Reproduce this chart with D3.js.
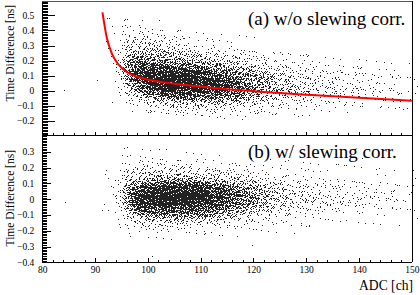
<!DOCTYPE html>
<html>
<head>
<meta charset="utf-8">
<script src="https://cdn.jsdelivr.net/npm/d3@7"></script>
<style>
body { margin: 0; background: #fff; }
svg text { font-family: "Liberation Serif", "Times New Roman", Times, serif !important; fill: #000; }
.axis path, .axis line { stroke: #000; shape-rendering: crispEdges; }
.axis text { font-size: 9.5px; }
</style>
</head>
<body>
<div id="chart"></div>
<script>
// Time difference vs ADC, before / after slewing correction

// ADC bin lower edges (2 ch wide)
var adcBins = [92, 94, 96, 98, 100, 102, 104, 106, 108, 110, 112, 114, 116, 118, 120,
               122, 124, 126, 128, 130, 132, 134, 136, 138, 140, 142, 144, 146, 148];
var adcBinWidth = 2;

// time bin lower edges [ns], 0.05 wide
var topRows = [0.50, 0.45, 0.40, 0.35, 0.30, 0.25, 0.20, 0.15, 0.10, 0.05, 0.00, -0.05, -0.10, -0.15, -0.20, -0.25];
var botRows = [0.35, 0.30, 0.25, 0.20, 0.15, 0.10, 0.05, 0.00, -0.05, -0.10, -0.15, -0.20, -0.25, -0.30, -0.35, -0.40];
var timeBinWidth = 0.05;

// entries per (ADC bin, time bin) - (a) w/o correction
var topCounts = [
  [1,1,1,1,1,1,1,1,1,0,0,0,0,0,0,0],
  [1,1,2,3,4,6,8,10,10,8,5,2,1,0,0,0],
  [0,1,3,6,10,18,32,50,62,50,28,10,3,1,0,0],
  [0,1,2,6,12,22,42,80,118,110,68,26,8,2,0,0],
  [0,0,2,5,10,20,36,78,140,155,110,44,12,3,1,0],
  [0,0,1,3,8,15,30,66,140,175,140,64,15,4,1,0],
  [0,0,1,2,6,12,25,55,128,175,158,76,20,5,1,0],
  [0,0,0,2,4,10,20,48,110,162,158,76,22,5,1,0],
  [0,0,0,1,3,8,16,40,98,145,145,76,22,5,1,0],
  [0,0,0,1,3,6,14,34,82,126,132,70,22,6,1,0],
  [0,0,0,1,2,5,12,29,68,108,114,64,22,6,1,0],
  [0,0,0,0,2,4,10,23,54,88,92,55,20,6,1,0],
  [0,0,0,0,1,3,8,18,42,66,72,44,17,5,1,0],
  [0,0,0,0,1,2,6,13,30,48,54,34,14,4,1,0],
  [0,0,0,0,1,2,5,10,21,34,38,26,11,3,1,0],
  [0,0,0,0,0,1,4,7,15,24,27,19,9,3,1,0],
  [0,0,0,0,0,1,3,6,11,17,20,16,8,2,1,0],
  [0,0,0,0,0,1,2,5,9,13,16,13,6,2,0,0],
  [0,0,0,0,0,1,2,4,7,10,13,11,5,2,1,0],
  [0,0,0,0,0,0,2,3,6,8,10,9,5,2,0,0],
  [0,0,0,0,0,0,1,3,5,7,9,8,4,1,0,0],
  [0,0,0,0,0,0,1,2,4,6,8,7,4,1,0,0],
  [0,0,0,0,0,0,1,2,3,5,7,6,3,1,0,0],
  [0,0,0,0,0,0,1,2,3,4,6,5,3,1,0,0],
  [0,0,0,0,0,0,1,1,3,4,5,5,3,1,0,0],
  [0,0,0,0,0,0,0,1,2,4,4,4,2,1,0,0],
  [0,0,0,0,0,0,0,1,2,3,4,4,2,1,0,0],
  [0,0,0,0,0,0,0,1,2,3,3,3,2,1,0,0],
  [0,0,0,0,0,0,0,1,2,2,3,3,2,1,0,0]
];

// (b) w/ correction
var botCounts = [
  [0,0,0,0,1,1,1,1,1,1,0,0,0,0,0,0],
  [0,1,1,2,4,6,9,12,10,6,3,1,0,0,0,0],
  [0,1,2,4,8,20,45,68,62,34,13,4,1,0,0,0],
  [0,1,2,5,10,27,86,128,115,62,19,5,1,0,0,0],
  [0,1,2,5,12,32,110,165,150,74,21,5,1,0,0,0],
  [0,0,2,5,12,34,122,178,162,80,23,5,1,0,0,0],
  [0,0,1,4,12,34,128,182,162,80,23,5,1,0,0,0],
  [0,0,1,4,11,32,122,175,150,74,21,5,1,0,0,0],
  [0,0,1,3,10,30,110,158,132,66,19,4,1,0,0,0],
  [0,0,1,3,9,27,98,140,115,57,17,4,1,0,0,0],
  [0,0,1,3,8,23,85,116,97,48,15,4,1,0,0,0],
  [0,0,0,2,7,19,66,90,76,38,12,3,1,0,0,0],
  [0,0,0,2,6,15,48,66,57,29,10,3,1,0,0,0],
  [0,0,0,2,5,12,34,47,40,21,8,2,0,0,0,0],
  [0,0,0,1,4,10,24,32,28,15,6,2,0,0,0,0],
  [0,0,0,1,3,8,18,24,20,11,5,1,0,0,0,0],
  [0,0,0,1,3,6,13,18,15,9,4,1,0,0,0,0],
  [0,0,0,1,2,5,10,14,12,7,3,1,0,0,0,0],
  [0,0,0,1,2,4,8,11,10,6,3,1,0,0,0,0],
  [0,0,0,1,2,3,7,9,8,5,2,1,0,0,0,0],
  [0,0,0,1,2,3,6,8,7,4,2,0,0,0,0,0],
  [0,0,0,1,1,3,5,7,6,4,2,0,0,0,0,0],
  [0,0,0,1,1,2,5,6,5,3,2,0,0,0,0,0],
  [0,0,0,1,1,2,4,5,5,3,1,0,0,0,0,0],
  [0,0,0,0,1,2,4,5,4,3,1,0,0,0,0,0],
  [0,0,0,0,1,2,3,4,4,2,1,0,0,0,0,0],
  [0,0,0,0,1,2,3,4,3,2,1,0,0,0,0,0],
  [0,0,0,0,1,1,3,3,3,2,1,0,0,0,0,0],
  [0,0,0,0,1,1,2,3,3,2,1,0,0,0,0,0]
];

// isolated entries [adc, ns]
var topOutliers = [[84.1, 0.005], [90.4, 0.07]];
var botOutliers = [[84.3, -0.02], [91.3, -0.07], [91.9, 0.16], [91.6, -0.03], [100.7, -0.36], [119.7, -0.29]];

// slewing fit curve
var fitAdc  = [91.4, 92.2, 93.2, 94.4, 96.3, 99.5, 102.7, 105.8, 109, 113, 120, 125, 131, 140, 150];
var fitTime = [0.52, 0.355, 0.245, 0.175, 0.118, 0.078, 0.057, 0.043, 0.031, 0.017, -0.003, -0.016, -0.029, -0.047, -0.066];

// ticks
var xTicks = [80, 90, 100, 110, 120, 130, 140, 150];
var topTicks = [-0.2, -0.1, 0, 0.1, 0.2, 0.3, 0.4, 0.5];
var botTicks = [-0.4, -0.3, -0.2, -0.1, 0, 0.1, 0.2, 0.3];

var width = 420, height = 295;
var serif = "'Liberation Serif', 'Times New Roman', Times, serif";

var svg = d3.select("#chart").append("svg")
    .attr("width", width)
    .attr("height", height);

var x = d3.scaleLinear().domain([80, 150]).range([42.3, 411.8]);
var yTop = d3.scaleLinear().domain([-0.291, 0.596]).range([134.5, 1]);
var yBot = d3.scaleLinear().domain([-0.4, 0.409]).range([262.3, 134.5]);

function frac(v) { return v - Math.floor(v); }

// lay the entries of each bin out evenly, with a triangular spread
// over the neighbouring half bins so the bin edges don't show
var a1 = 0.8566748838545, a2 = 0.7338918566271, a3 = 0.6287067210378, a4 = 0.5385972572236;
function binPoints(counts, rows, outliers, y) {
  var pts = [];
  var lo = y.domain()[0], hi = y.domain()[1];
  counts.forEach(function(col, i) {
    col.forEach(function(n, j) {
      for (var k = 0; k < n; k++) {
        var s = (i * 16 + j) * 251 + k + 1;
        var u = frac(0.5 + s * a1) + frac(0.5 + s * a2) - 0.5;
        var v = frac(0.5 + s * a3) + frac(0.5 + s * a4) - 0.5;
        var t = rows[j] + timeBinWidth * v;
        if (t > lo && t < hi) pts.push([adcBins[i] + adcBinWidth * u, t]);
      }
    });
  });
  return pts.concat(outliers);
}

function drawPanel(y, counts, rows, outliers) {
  svg.append("g")
    .attr("shape-rendering", "crispEdges")
    .selectAll("rect")
    .data(binPoints(counts, rows, outliers, y))
  .enter().append("rect")
    .attr("x", function(d) { return Math.round(x(d[0])); })
    .attr("y", function(d) { return Math.round(y(d[1])); })
    .attr("width", 1)
    .attr("height", 1)
    .attr("fill", "#222");
}

drawPanel(yTop, topCounts, topRows, topOutliers);
drawPanel(yBot, botCounts, botRows, botOutliers);

// fit curve
var fit = fitAdc.map(function(a, i) { return [a, fitTime[i]]; });
svg.append("path")
  .datum(fit)
  .attr("fill", "none")
  .attr("stroke", "#ff0000")
  .attr("stroke-width", 2)
  .attr("d", d3.line()
    .x(function(d) { return x(d[0]); })
    .y(function(d) { return yTop(d[1]); })
    .curve(d3.curveMonotoneX));

var fmt = function(d) { return d === 0 ? "0" : d3.format(".1f")(d); };

// y axes, ticks on the inside
function yAxis(y, ticks, lo, hi, major, minor) {
  svg.append("g")
    .attr("class", "axis")
    .attr("transform", "translate(" + x(80) + ",0)")
    .call(d3.axisLeft(y).tickValues(d3.range(lo, hi + 1).map(function(i) { return i / 100; }))
      .tickFormat("").tickSizeInner(-minor).tickSizeOuter(0));
  svg.append("g")
    .attr("class", "axis")
    .attr("transform", "translate(" + x(80) + ",0)")
    .call(d3.axisLeft(y).tickValues(ticks).tickFormat(fmt)
      .tickSizeInner(-major).tickSizeOuter(0).tickPadding(8));
}
yAxis(yTop, topTicks, -29, 59, 12.7, 6);
yAxis(yBot, botTicks, -40, 40, 8.3, 4.3);

// x axes
function xAxis(y0, ticksOn, major, minor) {
  svg.append("g")
    .attr("class", "axis")
    .attr("transform", "translate(0," + y0 + ")")
    .call(d3.axisBottom(x).tickValues(d3.range(80, 151, 2)).tickFormat("")
      .tickSizeInner(-minor).tickSizeOuter(0));
  svg.append("g")
    .attr("class", "axis")
    .attr("transform", "translate(0," + y0 + ")")
    .call(d3.axisBottom(x).tickValues(xTicks).tickFormat(ticksOn ? d3.format("d") : "")
      .tickSizeInner(-major).tickSizeOuter(0).tickPadding(3.5));
}
xAxis(134.5, false, 3, 1.5);
xAxis(262.3, true, 4.3, 2);

// frame
svg.append("line").attr("x1", x(80)).attr("x2", x(150) + 1).attr("y1", 1).attr("y2", 1)
  .attr("stroke", "#555").attr("shape-rendering", "crispEdges");
svg.append("line").attr("x1", x(150) + 1).attr("x2", x(150) + 1).attr("y1", 1).attr("y2", yBot(-0.4))
  .attr("stroke", "#000").attr("shape-rendering", "crispEdges");

// titles
function label(sel, size) {
  return sel.style("font-family", serif).style("font-size", size);
}
label(svg.append("text"), "11.5px")
  .attr("transform", "translate(13.5,5) rotate(-90)")
  .attr("text-anchor", "end")
  .text("Time Difference [ns]");
label(svg.append("text"), "11.5px")
  .attr("transform", "translate(13.5,150) rotate(-90)")
  .attr("text-anchor", "end")
  .text("Time Difference [ns]");
label(svg.append("text"), "13.6px")
  .attr("x", 413).attr("y", 290)
  .attr("text-anchor", "end")
  .text("ADC [ch]");

label(svg.append("text"), "19px")
  .attr("x", 248).attr("y", 25)
  .text("(a) w/o slewing corr.");
label(svg.append("text"), "19px")
  .attr("x", 248).attr("y", 158)
  .text("(b) w/ slewing corr.");
</script>
</body>
</html>
